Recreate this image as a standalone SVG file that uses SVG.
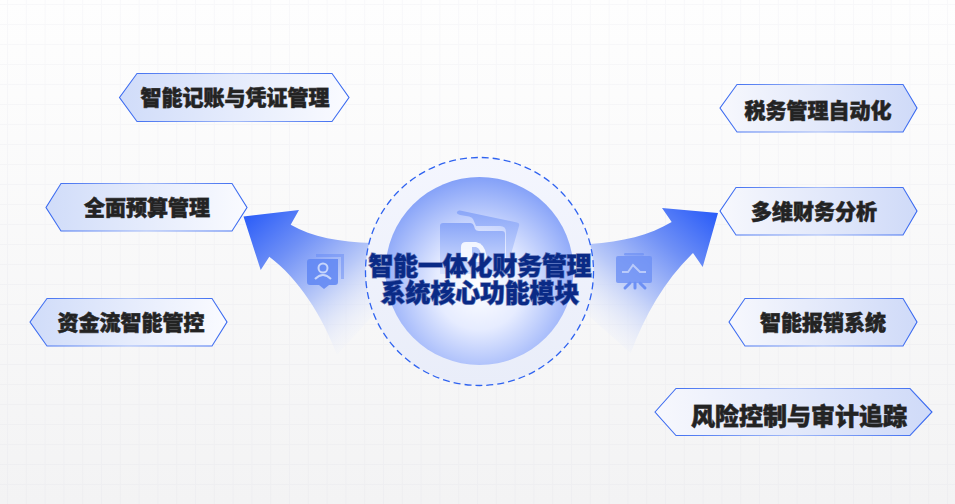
<svg xmlns="http://www.w3.org/2000/svg" width="955" height="504" viewBox="0 0 955 504">
<style>
.h{stroke:url(#hs);stroke-width:1.1}
.t{font-family:"Noto Sans CJK SC","Liberation Sans",sans-serif;font-weight:900;fill:#232323;stroke:#232323;stroke-opacity:.75;stroke-width:.8;text-anchor:middle;font-size:21px}
.c{font-family:"Noto Sans CJK SC","Liberation Sans",sans-serif;font-weight:900;fill:#0a2a86;stroke:#0a2a86;stroke-opacity:.55;stroke-width:1.4;text-anchor:middle;font-size:24.8px}
</style>
<defs>
<linearGradient id="bg" x1="0" y1="0" x2="0" y2="1"><stop offset="0" stop-color="#fefefe"/><stop offset="1" stop-color="#f3f3f4"/></linearGradient>
<pattern id="gr" width="18.800" height="20" patternUnits="userSpaceOnUse" x="7" y="4"><path d="M.5 0V20M0 .5H18.800" fill="none" stroke="#8a94b0" stroke-opacity=".055"/></pattern>
<linearGradient id="hl" x1="0" y1="0" x2="1" y2="0"><stop offset="0" stop-color="#d0dcf9"/><stop offset="1" stop-color="#fafbff"/></linearGradient>
<linearGradient id="hr" x1="0" y1="0" x2="1" y2="0"><stop offset="0" stop-color="#f7f8fd"/><stop offset="1" stop-color="#cfdaf8"/></linearGradient>
<linearGradient id="hs" x1="0" y1="0" x2="1" y2="0"><stop offset="0" stop-color="#3566f0"/><stop offset=".5" stop-color="#a4bbf8"/><stop offset="1" stop-color="#3566f0"/></linearGradient>
<linearGradient id="al" gradientUnits="userSpaceOnUse" x1="245" y1="215" x2="360" y2="345"><stop offset="0" stop-color="#2a5cf8"/><stop offset=".32" stop-color="#6f90f6"/><stop offset=".62" stop-color="#b9c9f8"/><stop offset="1" stop-color="#eef1fb" stop-opacity="0"/></linearGradient>
<linearGradient id="ar" gradientUnits="userSpaceOnUse" x1="716" y1="213" x2="602" y2="345"><stop offset="0" stop-color="#2a5cf8"/><stop offset=".32" stop-color="#6f90f6"/><stop offset=".62" stop-color="#b9c9f8"/><stop offset="1" stop-color="#eef1fb" stop-opacity="0"/></linearGradient>
<radialGradient id="core" cx=".5" cy=".58" r=".58"><stop offset="0" stop-color="#fff"/><stop offset=".4" stop-color="#e6ecff"/><stop offset="1" stop-color="#83a0f8"/></radialGradient>
<linearGradient id="ring" x1="0" y1="0" x2="0" y2="1"><stop offset="0" stop-color="#f4f6fe"/><stop offset="1" stop-color="#e9edf9"/></linearGradient>
<linearGradient id="ic" x1="0" y1="0" x2="0" y2="1"><stop offset="0" stop-color="#8aa6f8"/><stop offset="1" stop-color="#d8e2fe"/></linearGradient>
</defs>
<rect width="955" height="504" fill="url(#bg)"/>
<rect id="grid" width="955" height="504" fill="url(#gr)"/>
<g id="connectors">
<path fill="url(#al)" d="M243.500 216.500L299 210L290.700 224.700C312 237 340 242 372 243L378 310L337 355C322 315 298 278 269.300 256.700L260.700 270Z"/>
<path fill="url(#ar)" d="M718 213L662 208L671.700 222C650 235 622 242 590 244L582 310L630.700 353C645 315 665 280 693 253L702.700 267Z"/>
</g>
<g id="icon-left" fill="#5f86f3">
<path opacity=".45" d="M316 254H344V279H341V257H316Z"/>
<path opacity=".85" d="M310 259H338V282Q338 285 335 285H329L324 289L319 285H310Q307 285 307 282V262Q307 259 310 259Z"/>
<circle cx="323" cy="268" r="4.500" fill="none" stroke="#c7d5fb" stroke-width="2"/>
<path d="M315 279Q323 271 331 279" fill="none" stroke="#c7d5fb" stroke-width="2"/>
</g>
<g id="icon-right" fill="#6d90f4">
<rect x="624" y="253" width="20" height="2.500" rx="1.200" opacity=".7"/>
<rect x="616" y="256" width="36" height="27" rx="2" opacity=".8"/>
<path d="M622 272H628L633 265L640 272H646" fill="none" stroke="#b9cafa" stroke-width="2"/>
<path d="M630 283L625 288M635 283V288M640 283L645 288" stroke="#6d90f4" stroke-width="3" stroke-linecap="round"/>
</g>
<g id="center">
<circle cx="479.500" cy="271.500" r="114" fill="url(#ring)"/>
<circle cx="479.500" cy="271" r="94" fill="url(#core)"/>
<path fill="url(#ic)" d="M460 210.500L517 222.500Q520 223 519 226L506 272L506 232Q506 226 500 226H476L473 219Q472 217 469 216.500L460 215Q456 214 457 212Q458 210 460 210.500Z"/>
<path fill="url(#ic)" d="M443 223H470Q473 223 474 226L475 229Q476 231 479 231H502Q505 231 505 234V274H440V226Q440 223 443 223Z"/>
<path d="M466 242H476Q487 244 487 262H461V247Q461 242 466 242Z" fill="#fff" opacity=".85"/>
<path d="M472 247H476Q481 249 481 256H472Z" fill="#9fb6fa" opacity=".8"/>
<circle cx="479.500" cy="271.500" r="114" fill="none" stroke="#2f63f0" stroke-width="1.300" stroke-dasharray="7 4"/>
<text class="c"><tspan x="480" y="275">智能一体化财务管理</tspan><tspan x="480" y="302">系统核心功能模块</tspan></text>
</g>
<g id="n1"><path class="h" fill="url(#hl)" d="M119.500 97.500L137 73.500H332L349 97.500L332 121.500H137Z"/><text class="t" x="235" y="105">智能记账与凭证管理</text></g>
<g id="n2"><path class="h" fill="url(#hl)" d="M46 207.500L61 183.500H232L247 207.500L232 231H61Z"/><text class="t" x="147" y="215">全面预算管理</text></g>
<g id="n3"><path class="h" fill="url(#hl)" d="M30 322L47 298.500H212L227 322L212 346H47Z"/><text class="t" x="131" y="330">资金流智能管控</text></g>
<g id="n4"><path class="h" fill="url(#hr)" d="M720 108L737 84.500H903L917 108L903 132H737Z"/><text class="t" x="818" y="118">税务管理自动化</text></g>
<g id="n5"><path class="h" fill="url(#hr)" d="M720 211L736 187.500H903L917 211L903 235H736Z"/><text class="t" x="814" y="219">多维财务分析</text></g>
<g id="n6"><path class="h" fill="url(#hr)" d="M729 322L745 298.500H903L917 322L903 346H745Z"/><text class="t" x="823" y="330">智能报销系统</text></g>
<g id="n7"><path class="h" fill="url(#hr)" d="M655 412L676 388.500H910L932 412L910 435.500H676Z"/><text class="t" x="799" y="425" style="font-size:24px">风险控制与审计追踪</text></g>
</svg>
